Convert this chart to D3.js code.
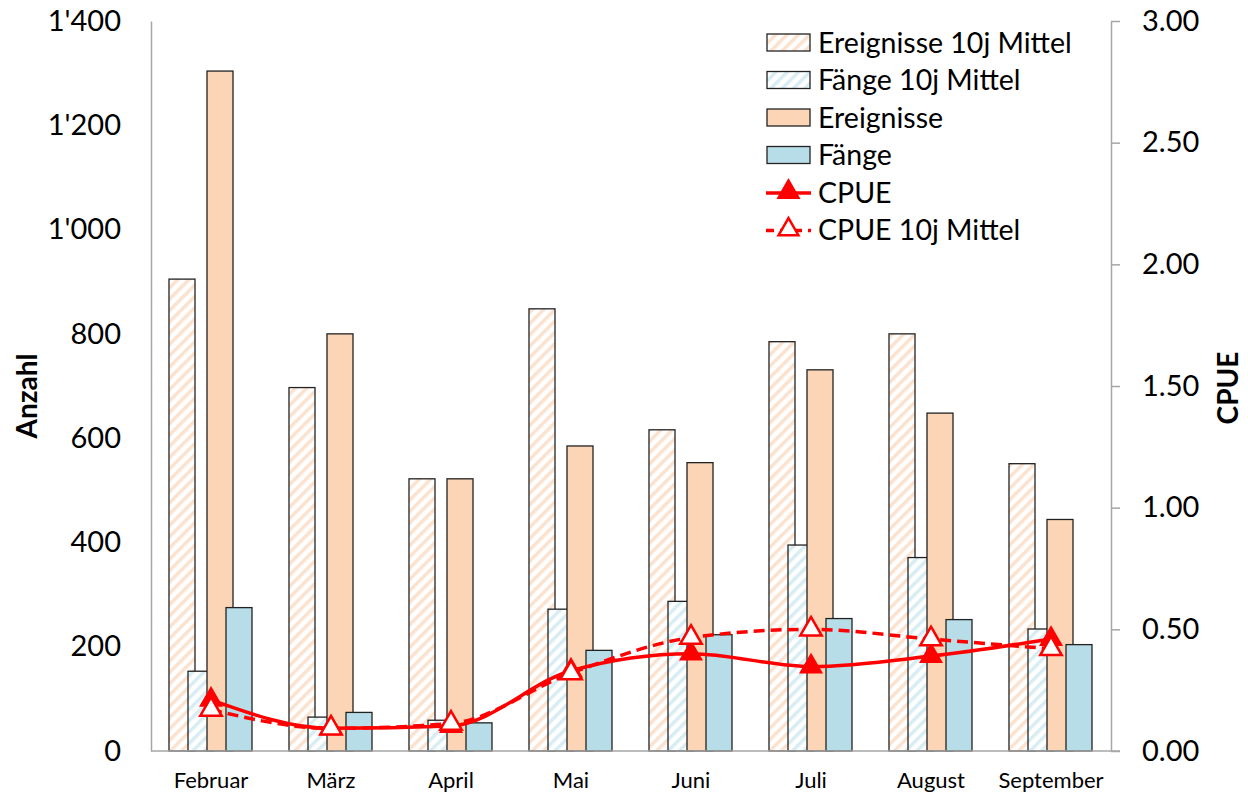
<!DOCTYPE html>
<meta charset="utf-8">
<style>
body { margin: 0; background: #fff; }
text { font-family: Lato, "Open Sans", sans-serif; fill: #000; }
.axis path, .axis line { stroke: #a6a6a6; stroke-width: 1.5; }
.bar { stroke: #222; stroke-width: 1.3; }
</style>
<svg width="1248" height="800"></svg>
<script src="https://cdn.jsdelivr.net/npm/d3@7"></script>
<script>
var months = ["Februar", "März", "April", "Mai", "Juni", "Juli", "August", "September"];
var ereignisse10j = [905, 697, 522, 848, 616, 785, 800, 551];
var faenge10j = [153, 65, 59, 272, 287, 395, 371, 234];
var ereignisse = [1304, 800, 522, 585, 553, 731, 648, 444];
var faenge = [275, 74, 54, 193, 223, 254, 252, 204];
var cpue = [0.21, 0.093, 0.103, 0.33, 0.40, 0.347, 0.39, 0.46];
var cpue10j = [0.17, 0.093, 0.113, 0.32, 0.466, 0.50, 0.46, 0.42];
var leftTicks = [0, 200, 400, 600, 800, 1000, 1200, 1400];
var rightTicks = [0, 0.5, 1, 1.5, 2, 2.5, 3];

var svg = d3.select("svg"),
    margin = {top: 21, right: 137, bottom: 49, left: 151},
    width = +svg.attr("width") - margin.left - margin.right,
    height = +svg.attr("height") - margin.top - margin.bottom;

var loc = d3.formatLocale({decimal: ".", thousands: "'", grouping: [3], currency: ["", ""]});

var x = d3.scaleBand().domain(months).range([0, width]).padding(0),
    y = d3.scaleLinear().domain([0, 1400]).range([height, 0]),
    y2 = d3.scaleLinear().domain([0, 3]).range([height, 0]);

// hatch patterns
var defs = svg.append("defs");
function hatch(id, color) {
  var p = defs.append("pattern")
      .attr("id", id)
      .attr("patternUnits", "userSpaceOnUse")
      .attr("width", 8).attr("height", 8)
      .attr("patternTransform", "rotate(45)");
  p.append("rect").attr("width", 8).attr("height", 8).attr("fill", "#fff");
  p.append("rect").attr("width", 3.5).attr("height", 8).attr("fill", color);
}
hatch("hatchE", "#fbe2cf");
hatch("hatchF", "#d8edf3");

var series = [
  {name: "Ereignisse 10j Mittel", values: ereignisse10j, fill: "url(#hatchE)"},
  {name: "Fänge 10j Mittel", values: faenge10j, fill: "url(#hatchF)"},
  {name: "Ereignisse", values: ereignisse, fill: "#fbd5b5"},
  {name: "Fänge", values: faenge, fill: "#b7dde8"}
];

var g = svg.append("g").attr("transform", "translate(" + margin.left + "," + margin.top + ")");

// bars (overlapping clusters like excel)
var barW = 26, barStep = 19, clusterStart = -42;
series.forEach(function(s, i) {
  g.selectAll(".bar-" + i)
    .data(s.values)
    .enter().append("rect")
      .attr("class", "bar bar-" + i)
      .attr("x", function(d, j) { return x(months[j]) + x.bandwidth() / 2 + clusterStart + i * barStep; })
      .attr("y", function(d) { return y(d); })
      .attr("width", barW)
      .attr("height", function(d) { return height - y(d); })
      .attr("fill", s.fill);
});

// axes
g.append("g")
    .attr("class", "axis axis--y")
    .call(d3.axisLeft(y).tickValues(leftTicks).tickSize(0).tickPadding(30).tickFormat(loc.format(",")))
  .selectAll("text").style("font-size", "29px");

g.append("g")
    .attr("class", "axis axis--y2")
    .attr("transform", "translate(" + width + ",0)")
    .call(d3.axisRight(y2).tickValues(rightTicks).tickSizeInner(9).tickSizeOuter(0).tickPadding(22).tickFormat(d3.format(".2f")))
  .selectAll("text").style("font-size", "29px");

g.append("g")
    .attr("class", "axis axis--x")
    .attr("transform", "translate(0," + height + ")")
    .call(d3.axisBottom(x).tickSize(0).tickPadding(21))
  .call(function(a) { a.select(".domain").attr("d", "M0,0H" + (width + 9)); })
  .selectAll("text").style("font-size", "22px");

svg.append("text")
    .attr("transform", "translate(37," + (margin.top + height / 2 + 10) + ") rotate(-90)")
    .attr("text-anchor", "middle")
    .style("font-size", "28px").style("font-weight", "bold")
    .text("Anzahl");

svg.append("text")
    .attr("transform", "translate(1238," + (margin.top + height / 2 + 2) + ") rotate(-90)")
    .attr("text-anchor", "middle")
    .style("font-size", "28px").style("font-weight", "bold")
    .text("CPUE");

// CPUE lines
var line = d3.line()
    .x(function(d, j) { return x(months[j]) + x.bandwidth() / 2; })
    .y(function(d) { return y2(d); })
    .curve(d3.curveMonotoneX);

var tri = d3.symbol().type(d3.symbolTriangle).size(200);

g.append("path").datum(cpue)
    .attr("d", line).attr("fill", "none")
    .attr("stroke", "#ff0000").attr("stroke-width", 3.5);
g.selectAll(".m1").data(cpue).enter().append("path")
    .attr("class", "m1")
    .attr("d", tri)
    .attr("transform", function(d, j) { return "translate(" + (x(months[j]) + x.bandwidth() / 2) + "," + y2(d) + ")"; })
    .attr("fill", "#ff0000").attr("stroke", "#ff0000").attr("stroke-width", 1.5);

g.append("path").datum(cpue10j)
    .attr("d", line).attr("fill", "none")
    .attr("stroke", "#ff0000").attr("stroke-width", 3.5)
    .attr("stroke-dasharray", "11,6");
g.selectAll(".m2").data(cpue10j).enter().append("path")
    .attr("class", "m2")
    .attr("d", tri)
    .attr("transform", function(d, j) { return "translate(" + (x(months[j]) + x.bandwidth() / 2) + "," + y2(d) + ")"; })
    .attr("fill", "#fff").attr("stroke", "#ff0000").attr("stroke-width", 2.5);

// legend
var legendItems = [
  {name: "Ereignisse 10j Mittel", type: "rect", fill: "url(#hatchE)"},
  {name: "Fänge 10j Mittel", type: "rect", fill: "url(#hatchF)"},
  {name: "Ereignisse", type: "rect", fill: "#fbd5b5"},
  {name: "Fänge", type: "rect", fill: "#b7dde8"},
  {name: "CPUE", type: "line", dash: null, mfill: "#ff0000"},
  {name: "CPUE 10j Mittel", type: "line", dash: "8,6", mfill: "#fff"}
];
var legend = svg.append("g").attr("transform", "translate(766,42)");
var li = legend.selectAll("g").data(legendItems).enter().append("g")
    .attr("transform", function(d, i) { return "translate(0," + (i * 37.5) + ")"; });
li.filter(function(d) { return d.type === "rect"; }).append("rect")
    .attr("class", "bar")
    .attr("x", 1).attr("y", -8).attr("width", 43).attr("height", 17)
    .attr("fill", function(d) { return d.fill; });
li.filter(function(d) { return d.type === "line"; }).append("line")
    .attr("x1", 0).attr("x2", 45).attr("y1", 1).attr("y2", 1)
    .attr("stroke", "#ff0000").attr("stroke-width", 3.5)
    .attr("stroke-dasharray", function(d) { return d.dash; });
li.filter(function(d) { return d.type === "line"; }).append("path")
    .attr("d", d3.symbol().type(d3.symbolTriangle).size(170))
    .attr("transform", "translate(22.5,0)")
    .attr("fill", function(d) { return d.mfill; })
    .attr("stroke", "#ff0000").attr("stroke-width", 2.5);
li.append("text")
    .attr("x", 52).attr("y", 1).attr("dy", "0.35em")
    .style("font-size", "28.5px")
    .text(function(d) { return d.name; });
</script>
